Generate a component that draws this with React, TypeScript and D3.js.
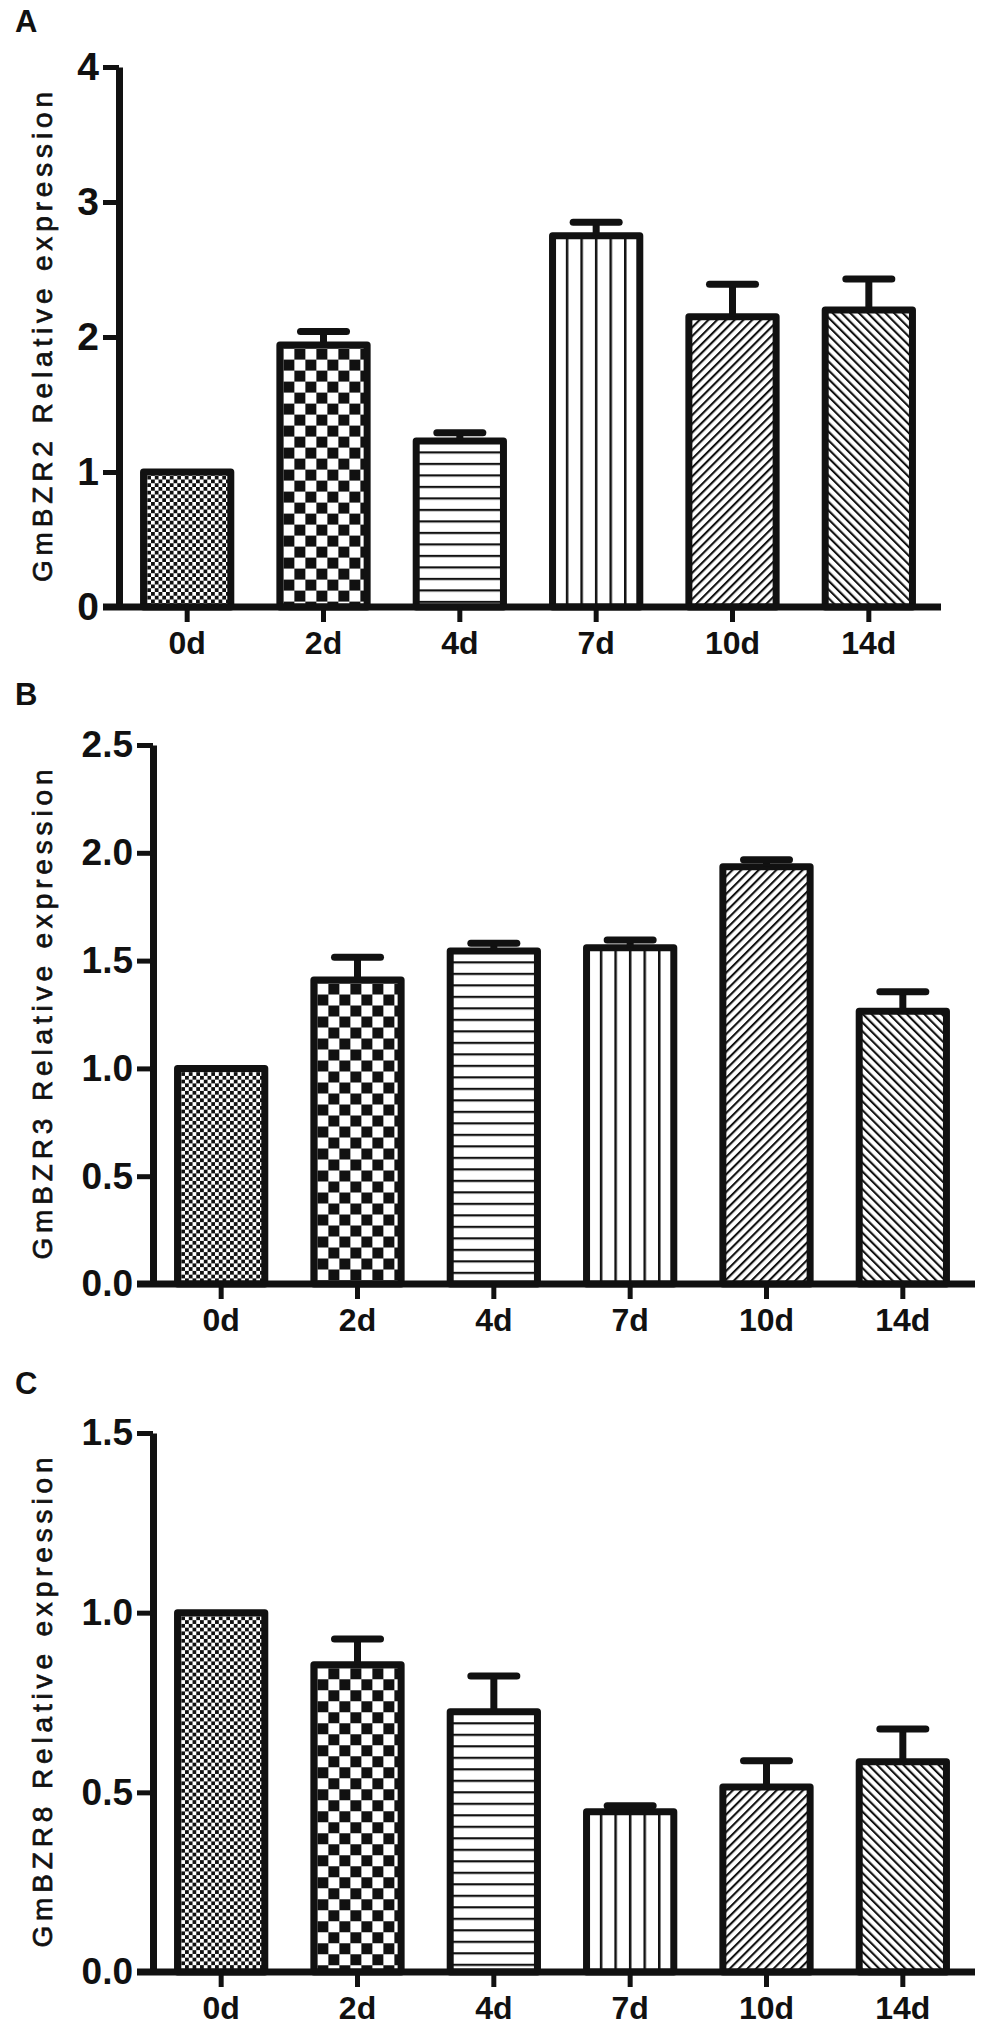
import * as d3 from 'd3'
import { useEffect, useRef } from 'react'

const days = ['0d', '2d', '4d', '7d', '10d', '14d']

const bzr2Mean = [1.0, 1.94, 1.23, 2.75, 2.15, 2.2]
const bzr2Err = [0, 0.1, 0.06, 0.1, 0.24, 0.23]
const bzr2Ticks = [0, 1, 2, 3, 4]

const bzr3Mean = [1.0, 1.41, 1.545, 1.56, 1.935, 1.265]
const bzr3Err = [0, 0.105, 0.035, 0.035, 0.033, 0.09]
const bzr3Ticks = [0, 0.5, 1, 1.5, 2, 2.5]

const bzr8Mean = [1.0, 0.855, 0.724, 0.446, 0.515, 0.585]
const bzr8Err = [0, 0.072, 0.1, 0.017, 0.073, 0.091]
const bzr8Ticks = [0, 0.5, 1, 1.5]

// fill used for each day, same order in every panel
const fills = ['fineCheck', 'coarseCheck', 'hLines', 'vLines', 'diagUp', 'diagDown']

const INK = '#111'
const FONT = '"Liberation Sans", Arial, sans-serif'

const panels = [
  { label: 'A', gene: 'GmBZR2', mean: bzr2Mean, err: bzr2Err, ticks: bzr2Ticks, fmt: d3.format('d'),
    top: 67, bottom: 607, axisX: 119, xEnd: 937, labelY: 32, tickFont: 39 },
  { label: 'B', gene: 'GmBZR3', mean: bzr3Mean, err: bzr3Err, ticks: bzr3Ticks, fmt: d3.format('.1f'),
    top: 745, bottom: 1284, axisX: 153, xEnd: 971, labelY: 705, tickFont: 37 },
  { label: 'C', gene: 'GmBZR8', mean: bzr8Mean, err: bzr8Err, ticks: bzr8Ticks, fmt: d3.format('.1f'),
    top: 1433, bottom: 1972, axisX: 153, xEnd: 971, labelY: 1394, tickFont: 37 },
]

type Defs = d3.Selection<SVGDefsElement, unknown, null, undefined>

function addPattern(defs: Defs, id: string, kind: string, x0: number, y0: number, w: number) {
  const p = defs.append('pattern').attr('id', id).attr('patternUnits', 'userSpaceOnUse')
  const bg = (pw: number, ph: number) =>
    p.append('rect').attr('width', pw).attr('height', ph).attr('fill', '#fff')

  if (kind === 'fineCheck') {
    const s = 3.75
    p.attr('x', x0).attr('y', y0).attr('width', s * 2).attr('height', s * 2)
    bg(s * 2, s * 2)
    p.append('rect').attr('width', s).attr('height', s).attr('fill', INK)
    p.append('rect').attr('x', s).attr('y', s).attr('width', s).attr('height', s).attr('fill', INK)
  } else if (kind === 'coarseCheck') {
    const s = 11
    p.attr('x', x0 + 3.5).attr('y', y0 + 3.5).attr('width', s * 2).attr('height', s * 2)
    bg(s * 2, s * 2)
    p.append('rect').attr('x', s).attr('width', s).attr('height', s).attr('fill', INK)
    p.append('rect').attr('y', s).attr('width', s).attr('height', s).attr('fill', INK)
  } else if (kind === 'hLines') {
    p.attr('x', 0).attr('y', y0 - 1.1).attr('width', 20).attr('height', 11.5)
    bg(20, 11.5)
    p.append('rect').attr('width', 20).attr('height', 2.2).attr('fill', INK)
  } else if (kind === 'vLines') {
    const step = w / 6
    p.attr('x', x0 - 1.25).attr('y', 0).attr('width', step).attr('height', 20)
    bg(step, 20)
    p.append('rect').attr('width', 2.5).attr('height', 20).attr('fill', INK)
  } else {
    p.attr('x', x0).attr('y', y0).attr('width', 6.2).attr('height', 10)
      .attr('patternTransform', `rotate(${kind === 'diagUp' ? 45 : -45})`)
    bg(6.2, 10)
    p.append('rect').attr('width', 2.1).attr('height', 10).attr('fill', INK)
  }
}

export default function App() {
  const ref = useRef<HTMLDivElement | null>(null)

  useEffect(() => {
    document.body.style.margin = '0'
    const width = 988
    const height = 2027

    const svg = d3
      .create('svg')
      .attr('width', width)
      .attr('height', height)
      .attr('viewBox', [0, 0, width, height])
      .style('background', '#fff')
      .style('display', 'block')
      .attr('font-family', FONT)

    const defs = svg.append('defs')

    panels.forEach((pn, pi) => {
      const yMax = pn.ticks[pn.ticks.length - 1]
      const y = d3.scaleLinear().domain([0, yMax]).range([pn.bottom, pn.top])
      const x = d3
        .scaleBand()
        .domain(days)
        .range([pn.axisX, pn.xEnd])
        .paddingInner(0.36)
        .paddingOuter(0.18)

      const g = svg.append('g')

      // panel letter
      g.append('text')
        .attr('x', 15)
        .attr('y', pn.labelY)
        .attr('font-size', 31)
        .attr('font-weight', 'bold')
        .attr('fill', INK)
        .text(pn.label)

      // y title
      g.append('text')
        .attr('transform', `translate(52,${(pn.top + pn.bottom) / 2}) rotate(-90)`)
        .attr('text-anchor', 'middle')
        .attr('font-size', 28)
        .attr('fill', INK)
        .attr('stroke', INK)
        .attr('stroke-width', 0.7)
        .attr('textLength', 490)
        .attr('lengthAdjust', 'spacing')
        .text(`${pn.gene} Relative expression`)

      // bars
      days.forEach((d, i) => {
        const id = `p${pi}-${i}`
        addPattern(defs, id, fills[i], x(d)!, y(pn.mean[i]), x.bandwidth())
      })

      g.append('g')
        .selectAll('rect')
        .data(days)
        .join('rect')
        .attr('x', (d) => x(d)!)
        .attr('y', (_, i) => y(pn.mean[i]))
        .attr('width', x.bandwidth())
        .attr('height', (_, i) => y(0) - y(pn.mean[i]))
        .attr('fill', (_, i) => `url(#p${pi}-${i})`)
        .attr('stroke', INK)
        .attr('stroke-width', 7)
        .attr('stroke-linejoin', 'round')

      // error bars (upper only)
      const eb = g
        .append('g')
        .attr('stroke', INK)
        .attr('stroke-width', 7)
        .selectAll('g')
        .data(days.filter((_, i) => pn.err[i] > 0))
        .join('g')
      eb.append('line')
        .attr('x1', (d) => x(d)! + x.bandwidth() / 2)
        .attr('x2', (d) => x(d)! + x.bandwidth() / 2)
        .attr('y1', (d) => y(pn.mean[days.indexOf(d)]))
        .attr('y2', (d) => y(pn.mean[days.indexOf(d)] + pn.err[days.indexOf(d)]))
      eb.append('line')
        .attr('stroke-linecap', 'round')
        .attr('x1', (d) => x(d)! + x.bandwidth() / 2 - 23)
        .attr('x2', (d) => x(d)! + x.bandwidth() / 2 + 23)
        .attr('y1', (d) => y(pn.mean[days.indexOf(d)] + pn.err[days.indexOf(d)]))
        .attr('y2', (d) => y(pn.mean[days.indexOf(d)] + pn.err[days.indexOf(d)]))

      // Y Axis
      const yAxis = g
        .append('g')
        .attr('transform', `translate(${pn.axisX},0)`)
        .call(
          d3
            .axisLeft(y)
            .tickValues(pn.ticks)
            .tickSize(16)
            .tickSizeOuter(0)
            .tickPadding(4)
            .tickFormat((v) => pn.fmt(v as number))
        )
      yAxis.select('.domain').attr('stroke', INK).attr('stroke-width', 7)
      yAxis.selectAll('.tick line').attr('stroke', INK).attr('stroke-width', 5)
      yAxis
        .selectAll('.tick text')
        .attr('fill', INK)
        .attr('font-size', pn.tickFont)
        .attr('font-weight', 'bold')
        .attr('font-family', FONT)

      // X Axis
      g.append('line')
        .attr('x1', pn.axisX - 16)
        .attr('x2', pn.xEnd + 4)
        .attr('y1', y(0))
        .attr('y2', y(0))
        .attr('stroke', INK)
        .attr('stroke-width', 7)

      const xAxis = g
        .append('g')
        .attr('transform', `translate(0,${y(0)})`)
        .call(d3.axisBottom(x).tickSize(15).tickSizeOuter(0))
      xAxis.select('.domain').remove()
      xAxis.selectAll('.tick line').attr('stroke', INK).attr('stroke-width', 5)
      xAxis
        .selectAll('.tick text')
        .attr('y', 47)
        .attr('dy', 0)
        .attr('fill', INK)
        .attr('font-size', 32)
        .attr('font-weight', 'bold')
        .attr('font-family', FONT)
    })

    if (ref.current) {
      ref.current.innerHTML = ''
      ref.current.appendChild(svg.node()!)
    }
  }, [])

  return <div ref={ref} style={{ width: 988 }} />
}
